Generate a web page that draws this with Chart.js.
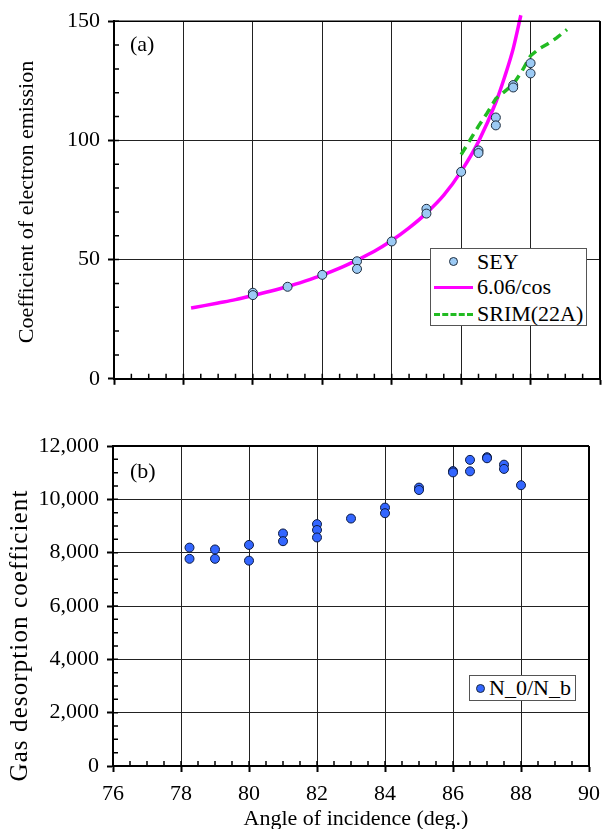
<!DOCTYPE html>
<html>
<head>
<meta charset="utf-8">
<script src="https://cdn.jsdelivr.net/npm/chart.js@4.4.1/dist/chart.umd.min.js"></script>
<style>
body { margin:0; background:#fff; width:609px; height:829px; position:relative; overflow:hidden; font-family:"Liberation Serif", serif; }
canvas { position:absolute; left:0; }
#chart-a { top:0; }
#chart-b { top:400px; }
.txt { position:absolute; font-size:22px; line-height:22px; height:22px; white-space:nowrap; color:#000; }
.rot { text-align:center; transform:rotate(-90deg); transform-origin:50% 50%; }
.legend { position:absolute; background:#fff; border:1px solid #555; box-sizing:border-box; }
.dot { position:absolute; width:9px; height:9px; border-radius:50%; border:1px solid #1c2b3d; box-sizing:border-box; }
.ln { position:absolute; height:0; }
</style>
</head>
<body>
<canvas id="chart-a" width="609" height="400"></canvas>
<canvas id="chart-b" width="609" height="429"></canvas>

<div class="txt" style="left:130px; top:33px;">(a)</div>
<div class="txt" style="left:130px; top:460px;">(b)</div>

<div class="txt rot" style="left:-124px; top:191px; width:300px;">Coefficient of electron emission</div>
<div class="txt rot" style="left:-142px; top:623px; width:320px; font-size:25px; line-height:25px; height:25px; letter-spacing:1.1px;">Gas desorption coefficient</div>
<div class="txt" style="left:206px; top:807px; width:300px; text-align:center;">Angle of incidence (deg.)</div>

<div class="legend" style="left:430px; top:248px; width:157px; height:78px;">
  <div class="dot" style="left:18px; top:8px; background:#9ccaf4;"></div>
  <div class="txt" style="left:46px; top:2px;">SEY</div>
  <div class="ln" style="left:3px; top:37px; width:39px; border-top:3.5px solid #ff00ff;"></div>
  <div class="txt" style="left:46px; top:27px;">6.06/cos</div>
  <div class="ln" style="left:3px; top:64px; width:39px; border-top:3.5px dashed #22bb22;"></div>
  <div class="txt" style="left:46px; top:54px;">SRIM(22A)</div>
</div>

<div class="legend" style="left:469px; top:675px; width:107px; height:26px;">
  <div class="dot" style="left:6px; top:8px; background:#3366ff;"></div>
  <div class="txt" style="left:19px; top:1px;">N_0/N_b</div>
</div>

<script>
// (a) secondary electron yield
const seyAngle = [80, 80, 81, 82, 83, 83, 84, 85, 85, 86, 86.5, 86.5, 87, 87, 87.5, 87.5, 88, 88];
const seyValue = [36.1, 35.1, 38.6, 43.6, 49.3, 46.1, 57.6, 71.3, 69.3, 86.8, 95.8, 94.7, 109.6, 106.3, 123.2, 122.2, 132.4, 128.1];

const cosAngle = [78.22, 78.6, 79, 79.5, 80, 80.5, 81, 81.5, 82, 82.5, 83, 83.5, 84, 84.5, 85, 85.5, 86, 86.5, 87, 87.25, 87.5, 87.72];
const cosValue = [29.7, 30.7, 31.8, 33.2, 34.9, 36.7, 38.7, 41.0, 43.5, 46.4, 49.8, 53.5, 58.0, 63.3, 69.5, 77.0, 87.0, 99.5, 116, 126.5, 138.5, 152.5];

const srimAngle = [86.0, 86.25, 86.5, 86.75, 87.0, 87.25, 87.5, 87.75, 88.0, 88.25, 88.5, 88.75, 89.05];
const srimValue = [94, 100, 106, 111.5, 117.5, 120.5, 123.5, 129, 135.5, 138.5, 140.5, 143, 146.5];

// (b) gas desorption
const gasAngle = [78.25, 78.25, 79, 79, 80, 80, 81, 81, 82, 82, 82, 83, 84, 84, 85, 85, 86, 86, 86.5, 86.5, 87, 87, 87.5, 87.5, 88];
const gasValue = [8190, 7770, 8120, 7770, 8290, 7700, 8720, 8430, 9070, 8850, 8570, 9280, 9690, 9480, 10440, 10350, 11060, 11010, 11480, 11050, 11580, 11540, 11300, 11140, 10530];

const xTicks = [76, 78, 80, 82, 84, 86, 88, 90];

function pts(xs, ys){
	return xs.map((x, i) => ({x: x, y: ys[i]}));
}

const tickFont = {family: 'Liberation Serif', size: 22};

// minor ticks inside + frame on top / right
const frameTicks = {
	id: 'frameTicks',
	afterDraw(chart, args, opts){
		const {ctx, chartArea: a, scales: {x, y}} = chart;
		ctx.save();
		ctx.strokeStyle = '#000';
		ctx.lineWidth = 1.5;
		ctx.beginPath();
		for (let v = x.min; v <= x.max + 1e-9; v += opts.xStep) {
			const px = x.getPixelForValue(v);
			ctx.moveTo(px, a.bottom);
			ctx.lineTo(px, a.bottom - opts.len);
		}
		for (let v = y.min; v <= y.max + 1e-9; v += opts.yStep) {
			const py = y.getPixelForValue(v);
			ctx.moveTo(a.left, py);
			ctx.lineTo(a.left + opts.len, py);
		}
		ctx.stroke();

		ctx.lineWidth = opts.top;
		ctx.beginPath();
		ctx.moveTo(a.left, a.top);
		ctx.lineTo(a.right, a.top);
		ctx.stroke();
		ctx.lineWidth = opts.right;
		ctx.beginPath();
		ctx.moveTo(a.right, a.top);
		ctx.lineTo(a.right, a.bottom);
		ctx.stroke();
		ctx.restore();
	}
};

function gridOpts(){
	return {color: '#222', lineWidth: 1, drawTicks: true, tickLength: 6, tickColor: '#000', tickWidth: 2};
}

const chartA = new Chart(document.getElementById('chart-a'), {
	type: 'scatter',
	data: {
		datasets: [
			{
				label: 'SEY',
				data: pts(seyAngle, seyValue),
				backgroundColor: '#9ccaf4',
				borderColor: '#1c2b3d',
				borderWidth: 1,
				pointRadius: 4.5,
				order: 0
			},
			{
				label: '6.06/cos',
				type: 'line',
				data: pts(cosAngle, cosValue),
				borderColor: '#ff00ff',
				borderWidth: 3.5,
				pointRadius: 0,
				cubicInterpolationMode: 'monotone',
				clip: false,
				order: 2
			},
			{
				label: 'SRIM(22A)',
				type: 'line',
				data: pts(srimAngle, srimValue),
				borderColor: '#22bb22',
				borderWidth: 3.5,
				borderDash: [9, 6],
				pointRadius: 0,
				clip: false,
				order: 1
			}
		]
	},
	plugins: [frameTicks],
	options: {
		responsive: false,
		animation: false,
		layout: {padding: {top: 21, right: 9, left: 0, bottom: 0}},
		plugins: {
			legend: {display: false},
			tooltip: {enabled: false},
			frameTicks: {xStep: 0.5, yStep: 10, len: 5, top: 1.5, right: 2}
		},
		scales: {
			x: {
				type: 'linear', min: 76, max: 90,
				afterBuildTicks(s){ s.ticks = xTicks.map(v => ({value: v})); },
				ticks: {display: false},
				grid: gridOpts(),
				border: {color: '#000', width: 2},
				afterFit(s){ s.height = 19; }
			},
			y: {
				min: 0, max: 150,
				ticks: {stepSize: 50, font: tickFont, color: '#000', padding: 8},
				grid: gridOpts(),
				border: {color: '#000', width: 2},
				afterFit(s){ s.width = 114; }
			}
		}
	}
});

const chartB = new Chart(document.getElementById('chart-b'), {
	type: 'scatter',
	data: {
		datasets: [
			{
				label: 'N_0/N_b',
				data: pts(gasAngle, gasValue),
				backgroundColor: '#3366ff',
				borderColor: '#0c1a40',
				borderWidth: 1,
				pointRadius: 4.5
			}
		]
	},
	plugins: [frameTicks],
	options: {
		responsive: false,
		animation: false,
		locale: 'en-US',
		layout: {padding: {top: 46, right: 13, left: 0, bottom: 0}},
		plugins: {
			legend: {display: false},
			tooltip: {enabled: false},
			frameTicks: {xStep: 0.5, yStep: 500, len: 5, top: 2, right: 2}
		},
		scales: {
			x: {
				type: 'linear', min: 76, max: 90,
				afterBuildTicks(s){ s.ticks = xTicks.map(v => ({value: v})); },
				ticks: {font: tickFont, color: '#000', padding: 9, maxRotation: 0},
				grid: gridOpts(),
				border: {color: '#000', width: 2},
				afterFit(s){ s.height = 63; }
			},
			y: {
				min: 0, max: 12000,
				ticks: {stepSize: 2000, font: tickFont, color: '#000', padding: 8},
				grid: gridOpts(),
				border: {color: '#000', width: 2},
				afterFit(s){ s.width = 113; }
			}
		}
	}
});
</script>
</body>
</html>
